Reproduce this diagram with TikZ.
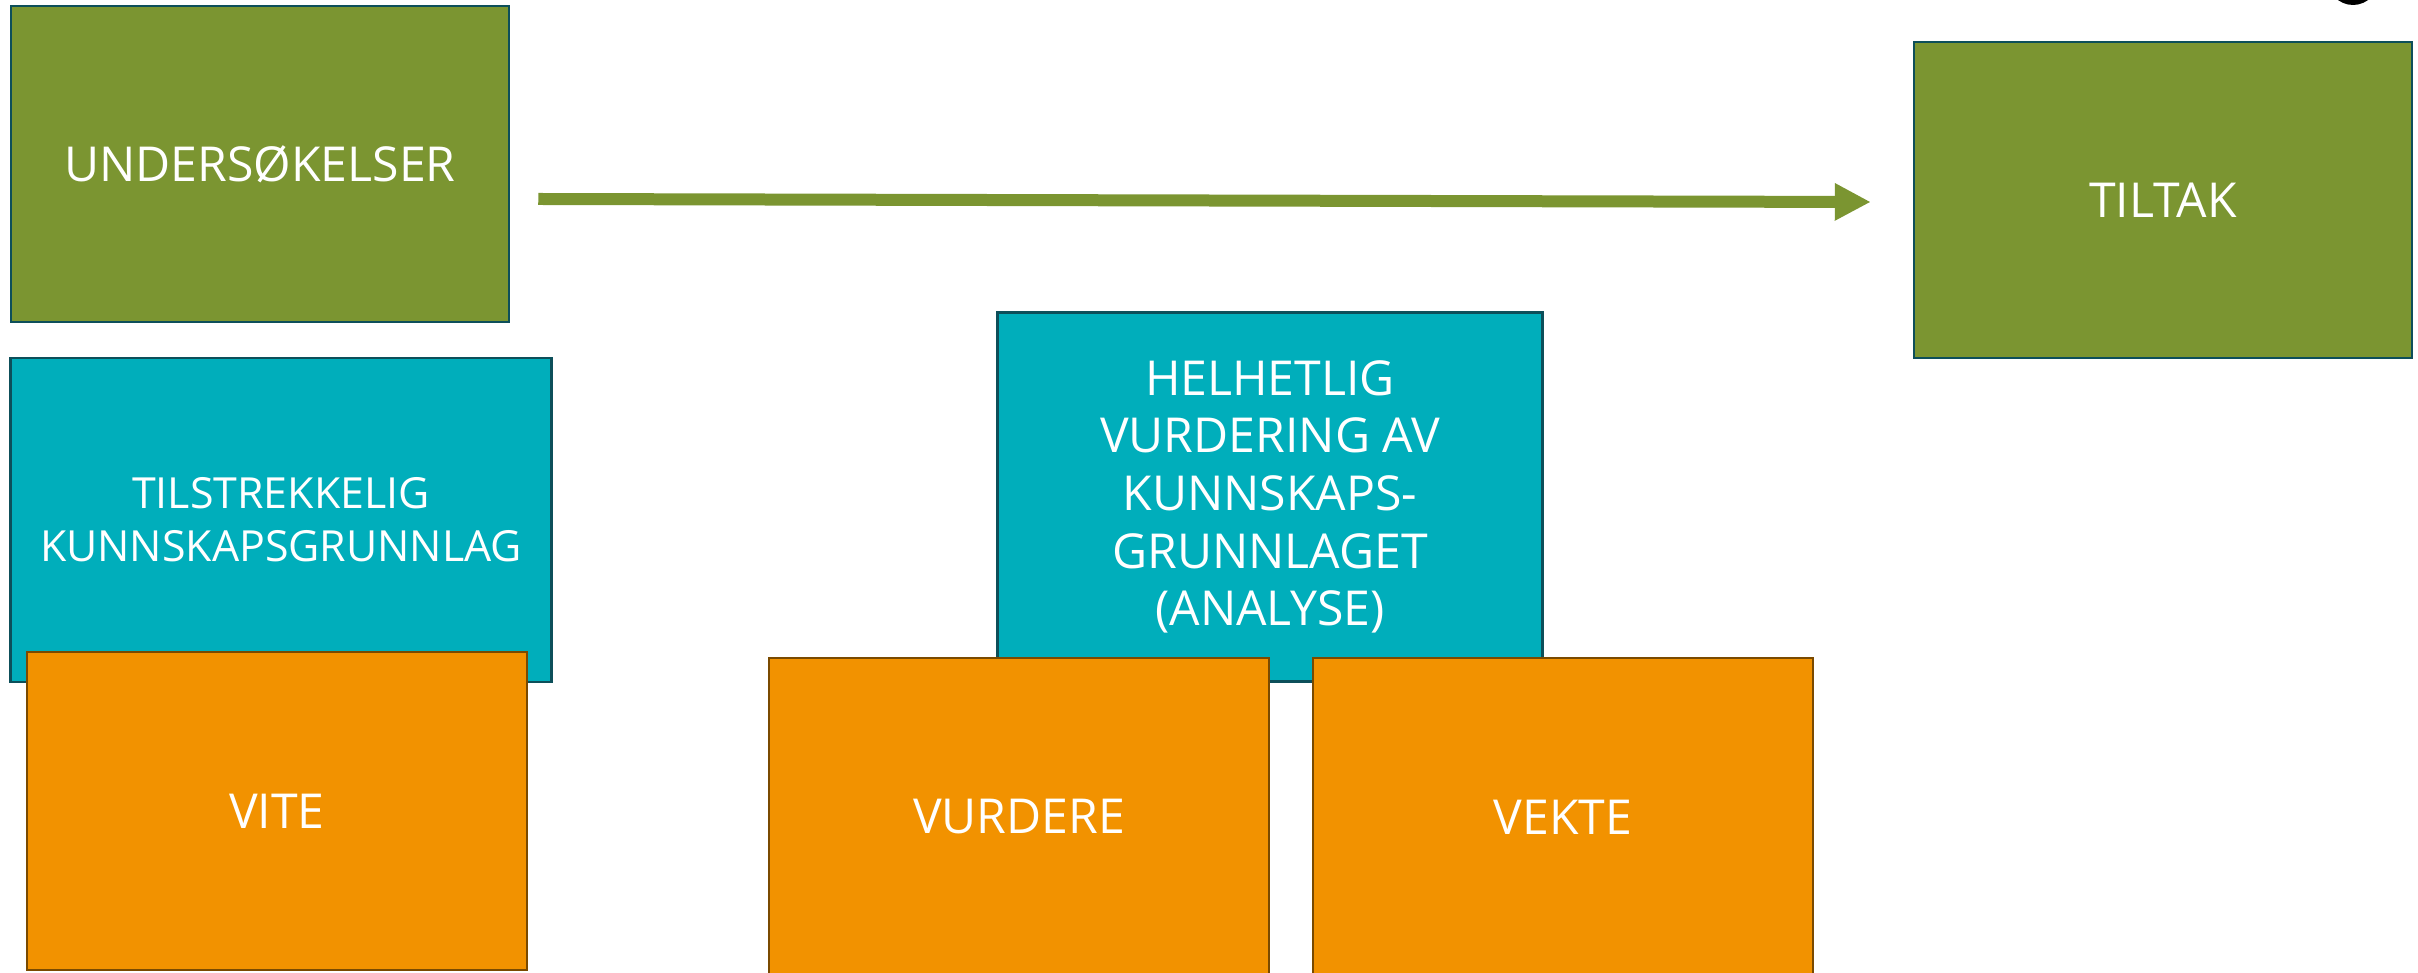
\documentclass[tikz,border=0pt]{standalone}
\usepackage{fontspec}
\setmainfont{Open Sans}
\usepackage{xcolor}
\usetikzlibrary{calc,positioning,arrows.meta}
\definecolor{kgreen}{HTML}{7B9531}
\definecolor{kteal}{HTML}{00AEBB}
\definecolor{korange}{HTML}{F29200}
\definecolor{kedge}{HTML}{0D4F5A}
\definecolor{kbrown}{HTML}{7A4A00}
\tikzset{
  boxgreen/.style={
    draw=kedge,
    fill=kgreen,
    line width=0.25mm,
    minimum width=49.8mm,
    minimum height=31.6mm
  },
  boxteal/.style={
    draw=kedge,
    fill=kteal,
    line width=0.25mm
  },
  boxorange/.style={
    draw=kbrown,
    fill=korange,
    line width=0.25mm,
    minimum width=50mm,
    minimum height=31.8mm
  },
  boxtext/.style={
    text=white,
    align=center,
    inner sep=0pt,
    font=\fontsize{13.7}{16.4}\selectfont
  }
}

\begin{document}
\begin{tikzpicture}[x=0.1mm,y=-0.1mm]
		\useasboundingbox (0,0) rectangle (2418,973);
		% top row
		\node[boxgreen,boxtext] at (260,164) (und) {UNDERSØKELSER};
		\node[boxgreen,boxtext] at (2163,200) (tiltak) {TILTAK};
		\draw[kgreen,line width=1.2mm,-{Triangle[length=3.6mm,width=3.5mm]}]
			($(und.east)+(28,35)$) -- ($(tiltak.west)+(-42,2)$);
		% teal boxes
		\node[boxteal,boxtext,font=\fontsize{12.2}{15.1}\selectfont,minimum width=54.1mm,minimum height=32.4mm] at (281,520) (kunnskap) {TILSTREKKELIG\\ KUNNSKAPSGRUNNLAG};
		\node[boxteal,boxtext,minimum width=54.5mm,minimum height=36.9mm] at (1270,497) (helhet) {HELHETLIG\\ VURDERING AV\\ KUNNSKAPS-\\ GRUNNLAGET\\ (ANALYSE)};
		% orange boxes
		\node[boxorange,boxtext] at (277,811) (vite) {VITE};
		\node[boxorange,boxtext] at (1019,817) (vurdere) {VURDERE};
		\node[boxorange,boxtext] at (1563,817) (vekte) {VEKTE};
		\fill (2353,-22) ellipse [x radius=26,y radius=27];
	\end{tikzpicture}
\end{document}
